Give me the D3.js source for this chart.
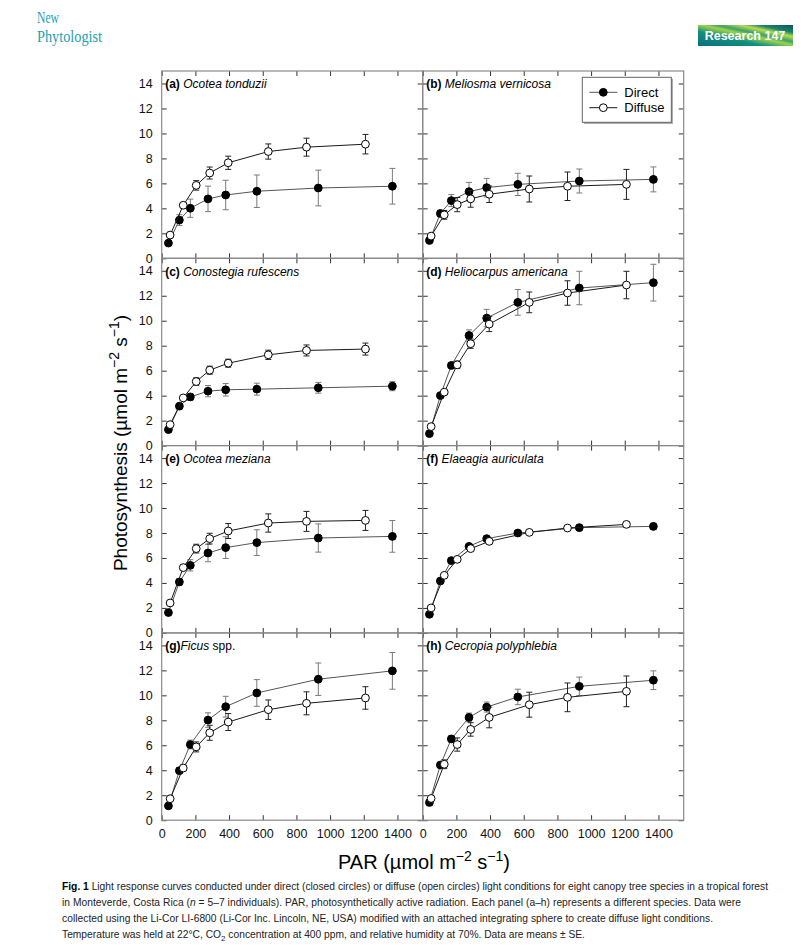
<!DOCTYPE html>
<html>
<head>
<meta charset="utf-8">
<script src="https://cdn.jsdelivr.net/npm/d3@7"></script>
<style>
  body { margin: 0; background: #fff; }
  svg text { font-family: "Liberation Sans", Arial, sans-serif; }
</style>
</head>
<body>
<div id="chart"></div>
<script>
// PAR levels (umol m-2 s-1) for the two light treatments
const parDirect = [40, 105, 170, 275, 380, 565, 930, 1370];
const parDiffuse = [50, 128, 205, 285, 395, 633, 860, 1210];

const letters = ['a', 'b', 'c', 'd', 'e', 'f', 'g', 'h'];
const species = ['Ocotea tonduzii', 'Meliosma vernicosa', 'Conostegia rufescens', 'Heliocarpus americana',
  'Ocotea meziana', 'Elaeagia auriculata', 'Ficus', 'Cecropia polyphlebia'];

// means and SE, one row per panel (a-h)
const directMean = [
  [1.22, 3.06, 4.01, 4.76, 5.07, 5.37, 5.63, 5.77],
  [1.43, 3.59, 4.62, 5.34, 5.66, 5.92, 6.19, 6.32],
  [1.28, 3.16, 3.90, 4.36, 4.47, 4.52, 4.63, 4.76],
  [0.96, 4.01, 6.42, 8.82, 10.21, 11.47, 12.62, 13.05],
  [1.63, 4.08, 5.41, 6.40, 6.83, 7.23, 7.60, 7.73],
  [1.49, 4.16, 5.79, 6.93, 7.55, 8.00, 8.43, 8.53],
  [1.15, 3.97, 6.06, 8.02, 9.09, 10.19, 11.29, 11.96],
  [1.42, 4.42, 6.51, 8.23, 9.06, 9.87, 10.72, 11.21]
];
const directSE = [
  [0.15, 0.43, 0.73, 1.02, 1.18, 1.30, 1.43, 1.43],
  [0.12, 0.25, 0.48, 0.74, 0.74, 0.89, 0.96, 1.00],
  [0.12, 0.15, 0.27, 0.45, 0.50, 0.48, 0.43, 0.36],
  [0.10, 0.15, 0.20, 0.45, 0.70, 1.03, 1.34, 1.47],
  [0.12, 0.25, 0.45, 0.70, 0.87, 1.03, 1.13, 1.27],
  [0.10, 0.15, 0.18, 0.20, 0.20, 0.18, 0.20, 0.25],
  [0.12, 0.25, 0.35, 0.58, 0.83, 1.07, 1.30, 1.47],
  [0.10, 0.20, 0.25, 0.35, 0.40, 0.62, 0.74, 0.75]
];
const diffuseMean = [
  [1.86, 4.25, 5.84, 6.83, 7.65, 8.55, 8.90, 9.14],
  [1.78, 3.48, 4.30, 4.76, 5.13, 5.55, 5.77, 5.92],
  [1.68, 3.82, 5.13, 6.04, 6.60, 7.27, 7.62, 7.73],
  [1.52, 4.28, 6.47, 8.16, 9.73, 11.47, 12.22, 12.86],
  [2.40, 5.23, 6.75, 7.55, 8.16, 8.80, 8.93, 9.01],
  [2.00, 4.61, 5.89, 6.75, 7.33, 8.05, 8.40, 8.69],
  [1.72, 4.18, 5.87, 7.00, 7.86, 8.85, 9.36, 9.79],
  [1.74, 4.48, 6.06, 7.27, 8.23, 9.25, 9.84, 10.32]
];
const diffuseSE = [
  [0.10, 0.22, 0.38, 0.48, 0.53, 0.61, 0.72, 0.78],
  [0.10, 0.35, 0.57, 0.67, 0.66, 1.04, 1.14, 1.20],
  [0.10, 0.15, 0.30, 0.32, 0.32, 0.37, 0.44, 0.48],
  [0.10, 0.15, 0.30, 0.37, 0.60, 0.83, 0.98, 1.10],
  [0.12, 0.20, 0.35, 0.43, 0.60, 0.73, 0.80, 0.80],
  [0.10, 0.12, 0.15, 0.15, 0.15, 0.15, 0.18, 0.20],
  [0.10, 0.25, 0.40, 0.60, 0.68, 0.78, 0.92, 0.90],
  [0.10, 0.35, 0.53, 0.54, 0.83, 1.00, 1.15, 1.23]
];

const xTicks = [0, 200, 400, 600, 800, 1000, 1200, 1400];
const yTicks = [0, 2, 4, 6, 8, 10, 12, 14];

const plotLeft = 161.7, plotTop = 71, W = 261, H = 187.3;

const svg = d3.select('#chart')
  .append('svg')
  .attr('width', 805)
  .attr('height', 951);

// header
svg.append('text').attr('x', 37).attr('y', 23).text('New')
  .style('font-family', '"Liberation Serif", serif').attr('font-size', 16)
  .attr('fill', '#1c9fb0').attr('textLength', 22).attr('lengthAdjust', 'spacingAndGlyphs');
svg.append('text').attr('x', 37).attr('y', 42).text('Phytologist')
  .style('font-family', '"Liberation Serif", serif').attr('font-size', 16)
  .attr('fill', '#1c9fb0').attr('textLength', 65).attr('lengthAdjust', 'spacingAndGlyphs');

const grad = svg.append('defs').append('linearGradient').attr('id', 'band')
  .attr('x1', '0%').attr('x2', '100%').attr('y1', '100%').attr('y2', '0%');
[['0%', '#0b6f80'], ['35%', '#12907f'], ['52%', '#9fd24a'], ['60%', '#3aa26a'],
  ['72%', '#b8dc4c'], ['82%', '#1a8466'], ['100%', '#0a5566']]
  .forEach(([o, c]) => grad.append('stop').attr('offset', o).attr('stop-color', c));
svg.append('rect').attr('x', 698).attr('y', 25).attr('width', 95).attr('height', 21).attr('fill', 'url(#band)');
svg.append('text').attr('x', 745).attr('y', 40).attr('text-anchor', 'middle')
  .style('font-family', '"Liberation Sans Narrow", "Liberation Sans", sans-serif')
  .attr('font-size', 12.5).attr('font-weight', 'bold').attr('fill', '#fff').text('Research  147');

const x = d3.scaleLinear().domain([0, 1550]).range([0, W]);
const y = d3.scaleLinear().domain([0, 15]).range([H, 0]);

const line = d3.line().x(d => x(d.par)).y(d => y(d.m));

function drawSeries(g, pts, opt) {
  g.append('path').datum(pts)
    .attr('d', line).attr('fill', 'none')
    .attr('stroke', opt.line).attr('stroke-width', 1);

  const eb = g.selectAll(null).data(pts).enter().append('g').attr('stroke', opt.bar).attr('stroke-width', 1);
  eb.append('line')
    .attr('x1', d => x(d.par)).attr('x2', d => x(d.par))
    .attr('y1', d => y(d.m - d.se)).attr('y2', d => y(d.m + d.se));
  [-1, 1].forEach(s => {
    eb.append('line')
      .attr('x1', d => x(d.par) - 3).attr('x2', d => x(d.par) + 3)
      .attr('y1', d => y(d.m + s * d.se)).attr('y2', d => y(d.m + s * d.se));
  });

  g.selectAll(null).data(pts).enter().append('circle')
    .attr('cx', d => x(d.par)).attr('cy', d => y(d.m)).attr('r', 3.9)
    .attr('fill', opt.fill).attr('stroke', '#000').attr('stroke-width', 1);
}

letters.forEach((L, i) => {
  const col = i % 2, row = Math.floor(i / 2);
  const g = svg.append('g').attr('transform', `translate(${plotLeft + col * W},${plotTop + row * H})`);

  const axes = [
    [d3.axisBottom(x).tickValues(xTicks), `translate(0,${H})`, row === 3],
    [d3.axisTop(x).tickValues(xTicks), 'translate(0,0)', false],
    [d3.axisLeft(y).tickValues(yTicks), 'translate(0,0)', col === 0],
    [d3.axisRight(y).tickValues(yTicks), `translate(${W},0)`, false]
  ];
  axes.forEach(([ax, tr, labels]) => {
    const a = g.append('g').attr('transform', tr)
      .call(ax.tickSize(-5).tickPadding(9).tickFormat(labels ? d3.format('d') : ''));
    a.select('.domain').remove();
    a.selectAll('line').attr('stroke', '#333');
    a.selectAll('text').attr('font-size', 12.5).attr('fill', '#111');
  });

  g.append('rect').attr('width', W).attr('height', H)
    .attr('fill', 'none').attr('stroke', '#8a8a8a').attr('stroke-width', 1.2);

  const dir = parDirect.map((p, k) => ({ par: p, m: directMean[i][k], se: directSE[i][k] }));
  const dif = parDiffuse.map((p, k) => ({ par: p, m: diffuseMean[i][k], se: diffuseSE[i][k] }));
  drawSeries(g, dir, { line: '#555', bar: '#7a7a7a', fill: '#000' });
  drawSeries(g, dif, { line: '#1a1a1a', bar: '#222', fill: '#fff' });

  const lab = g.append('text').attr('x', 3.5).attr('y', 17.3).attr('font-size', 12).attr('fill', '#000');
  lab.append('tspan').attr('font-weight', 'bold').text(`(${L})`);
  if (L === 'g') {
    lab.append('tspan').attr('font-style', 'italic').text(species[i]);
    lab.append('tspan').text(' spp.');
  } else {
    lab.append('tspan').attr('font-style', 'italic').text(' ' + species[i]);
  }

  if (L === 'b') {
    const lg = g.append('g').attr('transform', `translate(${582.3 - plotLeft - W},${77.3 - plotTop})`);
    lg.append('rect').attr('x', 1.5).attr('y', 1.5).attr('width', 89).attr('height', 45).attr('fill', '#999');
    lg.append('rect').attr('width', 89).attr('height', 45).attr('fill', '#fff')
      .attr('stroke', '#666').attr('stroke-width', 1);
    [['Direct', '#000', '#555'], ['Diffuse', '#fff', '#1a1a1a']].forEach(([t, f, s], k) => {
      const yy = 15 + k * 15.4;
      lg.append('line').attr('x1', 7).attr('x2', 35).attr('y1', yy).attr('y2', yy).attr('stroke', s);
      lg.append('circle').attr('cx', 21).attr('cy', yy).attr('r', 3.9).attr('fill', f).attr('stroke', '#000');
      lg.append('text').attr('x', 42).attr('y', yy + 4.5).attr('font-size', 13).text(t);
    });
  }
});

// axis titles
function unitTitle(sel, name, size) {
  const sup = Math.round(size * 0.72);
  sel.attr('font-size', size);
  sel.append('tspan').text(name + ' (µmol m');
  sel.append('tspan').attr('font-size', sup).attr('dy', -size * 0.4).text('−2');
  sel.append('tspan').attr('dy', size * 0.4).text(' s');
  sel.append('tspan').attr('font-size', sup).attr('dy', -size * 0.4).text('−1');
  sel.append('tspan').attr('dy', size * 0.4).text(')');
}
unitTitle(svg.append('text').attr('transform', 'translate(127,443) rotate(-90)')
  .attr('text-anchor', 'middle'), 'Photosynthesis', 19);
unitTitle(svg.append('text').attr('x', 424).attr('y', 869)
  .attr('text-anchor', 'middle'), 'PAR', 20);

// caption
const cap = svg.append('g')
  .style('font-family', '"Liberation Sans Narrow", "Liberation Sans", sans-serif')
  .attr('font-size', 11.5).attr('fill', '#222');
const capLines = [
  { y: 890, w: 706, parts: [['Fig. 1', 'b'], [' Light response curves conducted under direct (closed circles) or diffuse (open circles) light conditions for eight canopy tree species in a tropical forest']] },
  { y: 906, w: 679, parts: [['in Monteverde, Costa Rica ('], ['n', 'i'], [' = 5–7 individuals). PAR, photosynthetically active radiation. Each panel (a–h) represents a different species. Data were']] },
  { y: 922, w: 651, parts: [['collected using the Li-Cor LI-6800 (Li-Cor Inc. Lincoln, NE, USA) modified with an attached integrating sphere to create diffuse light conditions.']] },
  { y: 938, w: 523, parts: [['Temperature was held at 22°C, CO'], ['2', 's'], [' concentration at 400 ppm, and relative humidity at 70%. Data are means ± SE.']] }
];
const capTexts = capLines.map(l => {
  const t = cap.append('text').attr('x', 62).attr('y', l.y);
  l.parts.forEach(([s, f]) => {
    const sp = t.append('tspan').text(s);
    if (f === 'b') sp.attr('font-weight', 'bold').attr('fill', '#000');
    if (f === 'i') sp.attr('font-style', 'italic');
    if (f === 's') sp.attr('font-size', 8).attr('dy', 3);
    if (s.startsWith(' concentration')) sp.attr('dy', -3);
  });
  return t;
});
// size the caption so the first line fills its measure, then even out the rest with spacing
const fs = Math.max(10, Math.min(12.5, 11.5 * capLines[0].w / capTexts[0].node().getComputedTextLength()));
cap.attr('font-size', fs);
capTexts.forEach((t, k) => {
  const n = t.text().length;
  const extra = (capLines[k].w - t.node().getComputedTextLength()) / (n - 1);
  t.attr('letter-spacing', extra.toFixed(3));
});
</script>
</body>
</html>
